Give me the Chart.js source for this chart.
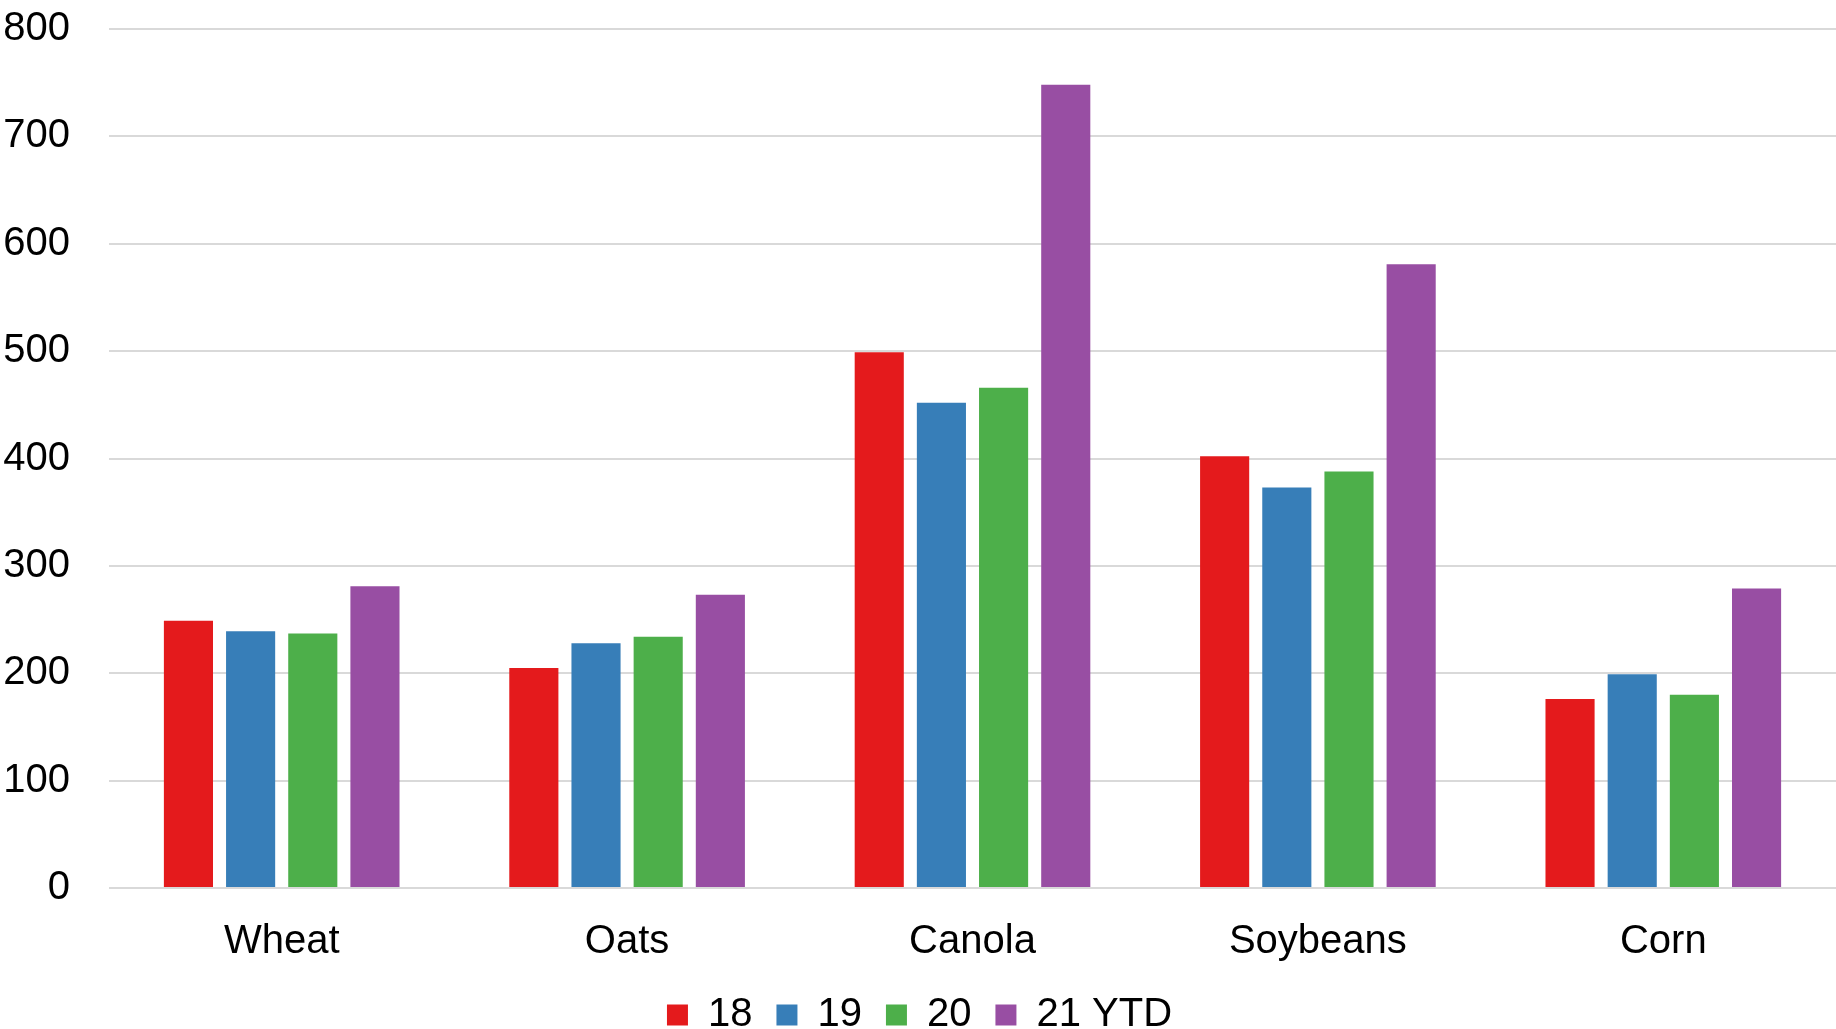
<!DOCTYPE html>
<html>
<head>
<meta charset="utf-8">
<script src="https://cdn.jsdelivr.net/npm/chart.js@4"></script>
<style>
  body { margin: 0; background: #fff; }
  #wrap { width: 1836px; height: 1029px; }
</style>
</head>
<body>
<div id="wrap"><canvas id="grafico" width="1836" height="1029"></canvas></div>
<script>
const categorias = ['Wheat', 'Oats', 'Canola', 'Soybeans', 'Corn'];
const serie18 = [249, 205, 499, 402, 176];
const serie19 = [239, 228, 452, 373, 199];
const serie20 = [237, 234, 466, 388, 180];
const serie21 = [281, 273, 748, 581, 279];
const nombres = ['18', '19', '20', '21 YTD'];
const colores = ['#e41a1c', '#377eb8', '#4daf4a', '#984ea3'];

const fuente = "'Liberation Sans Narrow', 'Arial Narrow', 'Liberation Sans', Arial, sans-serif";

const valores = [serie18, serie19, serie20, serie21];

new Chart(document.getElementById('grafico'), {
  type: 'bar',
  data: {
    labels: categorias,
    datasets: valores.map((v, i) => ({
      label: nombres[i],
      data: v,
      backgroundColor: colores[i],
      categoryPercentage: 0.72,
      barPercentage: 0.79
    }))
  },
  options: {
    responsive: false,
    animation: false,
    layout: { padding: { left: 3, right: 0, top: 29, bottom: -16 } },
    plugins: {
      legend: {
        position: 'bottom',
        labels: {
          boxWidth: 21,
          boxHeight: 21,
          color: '#000',
          padding: 24,
          font: { family: fuente, size: 40 }
        }
      },
      tooltip: { enabled: false }
    },
    scales: {
      x: {
        grid: { display: false },
        border: { display: false },
        ticks: { color: '#000', padding: 22, font: { family: fuente, size: 40 } },
        afterFit: function (s) {
          s.height = 83;
        }
      },
      y: {
        min: 0,
        max: 800,
        grid: { color: '#d9d9d9', lineWidth: 2, drawTicks: false },
        border: { display: false },
        ticks: {
          stepSize: 100,
          color: '#000',
          padding: 39,
          font: { family: fuente, size: 40 }
        },
        // ancho fijo del eje y sin relleno extra arriba/abajo
        afterFit: function (s) {
          s.width = 106;
          s.paddingTop = 0;
          s.paddingBottom = 0;
        }
      }
    }
  }
});
</script>
</body>
</html>
